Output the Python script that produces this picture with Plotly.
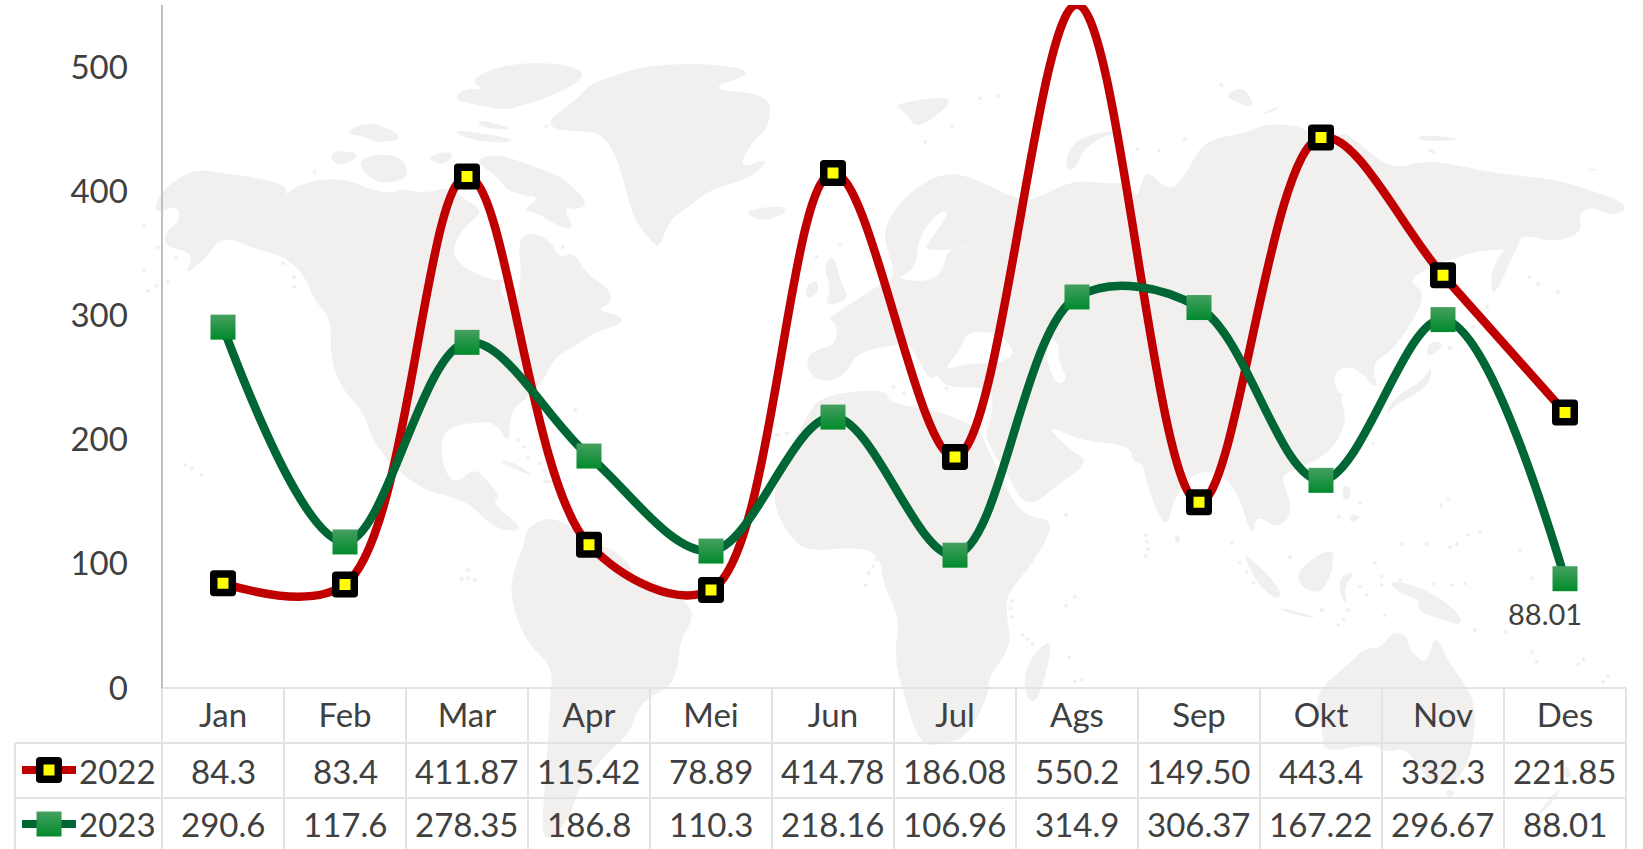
import plotly.graph_objects as go

# ---------- data ----------
months = ["Jan", "Feb", "Mar", "Apr", "Mei", "Jun", "Jul", "Ags", "Sep", "Okt", "Nov", "Des"]
series_2022 = [84.3, 83.4, 411.87, 115.42, 78.89, 414.78, 186.08, 550.2, 149.50, 443.4, 332.3, 221.85]
series_2023 = [290.6, 117.6, 278.35, 186.8, 110.3, 218.16, 106.96, 314.9, 306.37, 167.22, 296.67, 88.01]
labels_2022 = ["84.3", "83.4", "411.87", "115.42", "78.89", "414.78", "186.08", "550.2", "149.50", "443.4", "332.3", "221.85"]
labels_2023 = ["290.6", "117.6", "278.35", "186.8", "110.3", "218.16", "106.96", "314.9", "306.37", "167.22", "296.67", "88.01"]
y_ticks = [0, 100, 200, 300, 400, 500]

# ---------- frame (pixels) ----------
W, H = 1643, 849
L, R, T, B = 162, 1626, 5, 688
ROW = [688, 743, 798, 849]
TXT = "#404040"
LAND = "#f1f0ef"
GRID = "#e3e3e3"
FONT = "Lato, Carlito, Calibri, sans-serif"
FS = 33


def z(ox, oy, sx, sy, pts):
    return [(ox + a / sx, oy + b / sy) for a, b in pts]

def z2(p): return z(1200, 520, 3, 3, p)
def z4(p): return z(130, 50, 2.45, 3, p)
def z5(p): return z(400, 400, 3, 3, p)
def z6(p): return z(740, 80, 3, 3, p)
def z7(p): return z(740, 440, 3, 3, p)
def z8(p): return z(1100, 80, 2.887, 3, p)

land = [
    # North America
    z4([(80,420),(130,375),(170,358),(240,372),(300,380),(380,405),(385,440),(395,415),(470,385),(540,392),(590,420),
        (650,430),(660,415),(720,430),(790,410),(800,430),(850,470),(860,490),(820,530),(790,590),(800,640),(880,690),
        (925,690),(905,700),(915,750),(945,770),(960,670),(950,580),(975,545),(1030,570),(1050,625),(1090,605),
        (1115,670),(1175,715),(1180,760),(1140,780),(1210,800),(1200,825),(1140,845),(1090,890),(1040,920),(1010,1000),
        (965,1050),(930,1090),(930,1190),(900,1120),(850,1115),(770,1135),(760,1220),(790,1310),(850,1250),(870,1300),
        (880,1340),(760,1340),(680,1290),(600,1190),(570,1080),(520,1020),(490,920),(495,810),(450,750),(430,680),
        (380,620),(290,590),(255,568),(215,570),(190,620),(130,680),(160,610),(85,590),(85,545),(125,510),(115,465),
        (70,490),(60,470)]),
    # Central America
    z5([(0,150),(20,230),(130,285),(210,310),(270,375),(330,395),(370,385),(300,330),(280,300),(300,290),(250,225),
        (205,210),(180,260),(130,215),(115,130),(140,85),(130,0),(0,0)]),
    # South America
    z5([(375,390),(440,350),(500,370),(560,420),(640,450),(690,490),(700,530),(750,540),(820,570),(890,640),(840,720),
        (835,800),(810,860),(750,890),(710,930),(690,1000),(620,1060),(530,1170),(510,1260),(420,1345),(440,1100),
        (450,900),(460,800),(380,730),(330,600),(340,510),(375,430)]),
    # Greenland
    z4([(1030,205),(1030,235),(1100,245),(1150,245),(1195,320),(1230,500),(1280,580),(1300,590),(1320,510),(1380,460),
        (1420,420),(1530,380),(1568,320),(1490,360),(1520,280),(1568,230),(1568,130),(1405,120),(1540,65),(1420,40),
        (1270,45),(1180,80),(1130,100),(1100,140),(1070,170)]),
    # Arctic Canada
    z4([(830,90),(920,40),(1060,40),(1120,70),(1080,110),(1010,150),(960,165),(920,180),(870,170),(790,150),(820,115),(870,120)]),
    z4([(840,330),(900,310),(980,345),(1060,380),(1125,460),(1095,480),(1060,470),(1090,540),(1050,530),(1000,490),(960,480),(1010,440),(930,430),(900,380)]),
    z4([(560,320),(660,310),(690,380),(620,405),(570,370)]),
    z4([(500,300),(570,310),(520,350),(490,330)]),
    z4([(780,235),(940,265),(930,280),(830,270)]),
    z4([(520,250),(590,210),(680,265),(600,280),(580,260)]),
    z4([(720,320),(800,300),(770,350)]),
    z4([(850,205),(950,240),(860,235)]),
    # Iceland, British Isles, Svalbard, Novaya Zemlya
    z6([(20,390),(130,375),(140,400),(70,425),(25,405)]),
    z6([(250,560),(280,520),(300,600),(330,660),(250,680),(275,630)]),
    z6([(200,610),(235,600),(235,640),(195,660)]),
    z6([(455,70),(650,45),(590,110),(525,145),(500,100)]),
    z6([(970,250),(1010,170),(1165,145),(1040,190),(1000,280)]),
    # Eurasia
    z6([(200,880),(205,815),(290,795),(290,730),(260,715),(350,660),(400,625),(470,590),(440,510),(430,440),(500,340),
        (620,270),(740,310),(830,360),(880,340),(860,360),(900,350),(1000,300),(1100,310),(1160,310)])
    + z8([(110,360),(130,260),(200,340),(250,280),(300,180),(420,160),(480,130),(600,140),(650,220),(690,150),(750,190),
          (840,270),(940,240),(1050,260),(1170,285),(1300,295),(1420,330),(1530,375),(1490,410),(1420,380),(1380,400),
          (1395,455),(1310,490),(1220,460),(1190,510),(1100,510),(1000,540),(880,600),(950,640),(850,810),(780,850),
          (810,940),(730,860),(670,880),(730,920),(690,950),(710,1000),(700,1060),(650,1130),(560,1170),(520,1190),
          (560,1290),(515,1350),(450,1300),(440,1380),(400,1240),(340,1170),(270,1180),(215,1250),(190,1360)])
    + z7([(1215,120),(1210,70),(1180,70),(1170,15),(1030,5),(910,-50),(990,30),(1050,65),(960,130),(860,210),(800,100),(730,-10)])
    + z6([(755,1010),(760,920),(620,925),(590,880),(570,905),(520,810),(500,790),(430,800),(350,820),(320,880),(260,910)]),
    # Africa
    z6([(195,1020),(240,945),(440,925),(445,970),(590,990),(720,1045)])
    + z7([(740,20),(790,130),(850,230),(950,240),(880,370),(800,460),(800,530),(815,620),(745,710),(745,770),(680,890),
          (620,910),(540,920),(490,760),(462,650),(480,530),(430,440),(420,345),(350,320),(200,335),(150,290),(100,200),(110,100)]),
    z7([(925,600),(935,630),(900,770),(870,790),(850,740),(865,660)]),
    z7([(1305,280),(1320,290),(1320,310),(1305,310)]),
    # Asia-Pacific islands
    z2([(125,95),(170,130),(245,210),(235,245),(170,190)]),
    z2([(290,150),(400,75),(400,150),(360,225),(300,200)]),
    z2([(245,262),(345,290),(340,295),(250,275)]),
    z2([(420,165),(470,155),(430,200),(445,260),(420,230)]),
    z2([(565,180),(660,200),(760,260),(795,320),(710,295),(650,270),(660,240),(590,215)]),
    z2([(340,520),(450,430),(490,385),(545,385),(575,335),(620,345),(625,385),(680,440),(705,335),(740,420),(830,540),
        (820,680),(780,780),(725,800),(680,780),(620,680),(560,700),(520,670),(370,700),(370,640)]),
    z2([(730,810),(770,810),(750,840)]),
    z2([(1070,810),(1085,815),(1020,885),(990,910),(1030,860)]),
    z2([(1095,730),(1120,770),(1090,775)]),
    z8([(960,850),(950,920),(860,970),(820,1010),(850,950),(935,900)]),
    z8([(950,780),(1000,790),(940,840)]),
    z8([(1225,455),(1190,530),(1135,660),(1125,580),(1170,500)]),
    z8([(700,1215),(725,1220),(720,1260),(700,1260)]),
    z8([(720,1300),(760,1310),(720,1330)]),
    z8([(790,1080),(795,1095),(780,1095)]),
    z8([(375,35),(420,20),(450,90),(365,55)]),
    z8([(460,105),(510,80),(515,90)]),
    z8([(910,165),(1000,170),(1050,180),(930,185)]),
    z8([(945,200),(975,220),(950,220)]),
    z8([(1400,270),(1435,265),(1435,272)]),
    z5([(290,180),(340,185),(405,230),(360,215)]),
    z5([(420,240),(475,240),(440,255)]),
]
water = [
    z6([(600,390),(630,400),(570,480),(550,510),(640,510),(690,495),(620,510),(610,570),(570,605),(490,600),(480,590),(530,560),(535,470)]),
    z6([(610,870),(660,810),(680,760),(720,755),(780,760),(830,820),(780,850),(700,850),(650,860)]),
    z6([(920,770),(960,790),(950,830),(985,900),(950,915),(920,850)]),
    z8([(670,880),(720,855),(770,890),(800,950),(730,930),(690,950)]),
]
dots = (
    z4([(35,528),(68,592),(113,625),(35,660),(65,707),(92,695),(45,722),(135,1245),(152,1255),(175,1275),(375,640),(402,680),(402,710),
        (950,1170),(965,1190),(975,1225),(1005,1240),(1015,1260),(1090,1080),(1060,590),(940,400),(975,435),(1020,228),(1150,102),(452,365)])
    + z5([(205,510),(185,538),(205,535),(225,540),(525,30),(1120,30),(1130,105),(1160,100),(1110,115)])
    + z6([(720,55),(775,50),(635,140),(555,185),(300,495),(230,530),(100,990),(90,1060),(115,1065),(140,1060),(460,920),(490,940),(620,925)])
    + z7([(410,358),(400,378),(386,400),(376,436),(816,482),(812,505),(816,530),(848,585),(862,597),(878,612),(978,497),(1004,470),
          (988,652),(1024,720),(1004,724),(978,224),(1217,285),(1221,305),(1224,327),(1217,348)])
    + z8([(350,15),(108,208),(170,212),(245,178),(1240,590),(1265,612),(1322,636),(1118,680),(1078,740),(1010,805),(985,1277),(1005,1257),(690,1310),(750,1270)])
    + z2([(95,70),(120,128),(140,155),(160,188),(270,112),(525,128),(545,170),(545,195),(480,200),(500,225),(445,270),(430,298),
          (365,270),(415,315),(555,285),(600,180),(700,190),(755,195),(795,190),(825,330),(995,175),(915,335),(995,395),(1010,425),
          (1150,418),(1135,433),(1225,470),(1210,485),(805,45),(840,35),(680,72),(770,72),(750,82),(958,92),(603,72)])
)

def poly(pts, color):
    # rounded outline: quadratic segments through the edge midpoints
    n = len(pts)
    mid = [((pts[i][0] + pts[(i + 1) % n][0]) / 2, (pts[i][1] + pts[(i + 1) % n][1]) / 2) for i in range(n)]
    path = f"M{mid[-1][0]:.1f},{mid[-1][1]:.1f}"
    for i in range(n):
        path += f"Q{pts[i][0]:.1f},{pts[i][1]:.1f} {mid[i][0]:.1f},{mid[i][1]:.1f}"
    return dict(type="path", path=path + "Z", xref="x", yref="y", fillcolor=color, line=dict(width=0), layer="below")

shapes = [poly(p, LAND) for p in land] + [poly(p, "white") for p in water]
for a, b in dots:
    shapes.append(dict(type="circle", xref="x", yref="y", x0=a-2, x1=a+2, y0=b-2, y1=b+2,
                       fillcolor=LAND, line=dict(width=0), layer="below"))

# table grid
def rule(x0, y0, x1, y1):
    return dict(type="line", xref="x", yref="y", x0=x0, y0=y0, x1=x1, y1=y1,
                line=dict(color=GRID, width=2), layer="below")

CW = (R - L) / len(months)
shapes.append(rule(L, ROW[0], R, ROW[0]))
shapes.append(rule(15, ROW[1], R, ROW[1]))
shapes.append(rule(15, ROW[2], R, ROW[2]))
shapes.append(rule(15, ROW[1], 15, ROW[3]))
for i in range(len(months) + 1):
    shapes.append(rule(L + i * CW, ROW[0], L + i * CW, ROW[3]))

# table values
ann = []
for m, a, b in zip(months, labels_2022, labels_2023):
    ann.append(dict(x=m, xref="x2", y=(ROW[1] + ROW[2]) / 2, yref="y", text=a, showarrow=False))
    ann.append(dict(x=m, xref="x2", y=(ROW[2] + ROW[3]) / 2 + 0.5, yref="y", text=b, showarrow=False))
for row, name in ((1, "2022"), (2, "2023")):
    ann.append(dict(x=117.5, xref="x", y=(ROW[row] + ROW[row + 1]) / 2 + (row - 1) * 0.5, yref="y", text=name, showarrow=False))
ann.append(dict(x=months[-1], xref="x2", y=series_2023[-1], yref="y2", text=labels_2023[-1], showarrow=False,
                xshift=-20, yshift=-35, font=dict(size=29, color=TXT, family=FONT)))

RED = "#c00000"
GREEN = "#006633"
m22 = dict(symbol="square", size=[0 if v > 550 else 18.5 for v in series_2022], color="#ffff00", opacity=1,
           line=dict(color="#000000", width=7.5))
m23 = dict(symbol="square", size=25, color="#46a060", opacity=1,
           gradient=dict(type="vertical", color="#008a2c"), line=dict(width=0))

fig = go.Figure()
# legend keys in the table's first column
fig.add_trace(go.Scatter(x=[22, 76], y=[770, 770], xaxis="x", yaxis="y", mode="lines", line=dict(color=RED, width=8),
                         hoverinfo="skip", showlegend=False))
fig.add_trace(go.Scatter(x=[49], y=[770], xaxis="x", yaxis="y", mode="markers",
                         marker=dict(symbol="square", size=18.5, color="#ffff00", line=dict(color="#000000", width=7.5)),
                         hoverinfo="skip", showlegend=False))
fig.add_trace(go.Scatter(x=[22, 76], y=[824, 824], xaxis="x", yaxis="y", mode="lines", line=dict(color=GREEN, width=8),
                         hoverinfo="skip", showlegend=False))
fig.add_trace(go.Scatter(x=[49], y=[824], xaxis="x", yaxis="y", mode="markers",
                         marker=dict(symbol="square", size=25, color="#46a060",
                                     gradient=dict(type="vertical", color="#008a2c"), line=dict(width=0)),
                         hoverinfo="skip", showlegend=False))
# series
fig.add_trace(go.Scatter(x=months, y=series_2022, name="2022", xaxis="x2", yaxis="y2", mode="lines+markers",
                         line=dict(color=RED, width=8.5, shape="spline", smoothing=1.0), marker=m22, showlegend=False))
fig.add_trace(go.Scatter(x=months, y=series_2023, name="2023", xaxis="x2", yaxis="y2", mode="lines+markers",
                         line=dict(color=GREEN, width=8.5, shape="spline", smoothing=1.0), marker=m23, showlegend=False))

fig.update_layout(
    width=W, height=H, margin=dict(l=0, r=0, t=0, b=0, pad=0, autoexpand=False),
    paper_bgcolor="white", plot_bgcolor="rgba(0,0,0,0)",
    font=dict(family=FONT, size=FS, color=TXT),
    shapes=shapes, annotations=ann, showlegend=False,
    xaxis=dict(domain=[0, 1], range=[0, W], visible=False, fixedrange=True),
    yaxis=dict(domain=[0, 1], range=[H, 0], visible=False, fixedrange=True),
    xaxis2=dict(domain=[L / W, R / W], anchor="y2", type="category", categoryorder="array", categoryarray=months,
                range=[-0.5, 11.5], showgrid=False, zeroline=False, showline=False, ticks="",
                ticklabelstandoff=5, tickfont=dict(size=FS, color=TXT, family=FONT), fixedrange=True),
    yaxis2=dict(domain=[(H - B) / H, (H - T) / H], anchor="free", position=(L - 0.5) / W, range=[0, 550],
                tickvals=y_ticks, showgrid=False, zeroline=False, showline=True, linecolor="#bfbfbf", linewidth=2, ticks="",
                ticklabelstandoff=26, tickfont=dict(size=FS, color=TXT, family=FONT), fixedrange=True),
)

fig.write_html("out.html", config=dict(displayModeBar=False),
               post_script="document.body.style.margin='0';document.body.style.overflow='hidden';"
                           "var s=document.createElement('style');"
                           "s.textContent='.scatterlayer path.point{stroke-linejoin:round}';"
                           "document.head.appendChild(s);")
